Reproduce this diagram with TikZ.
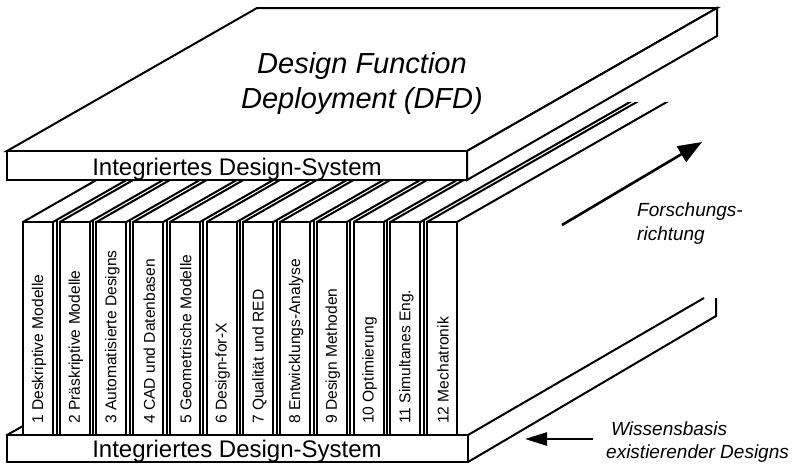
\documentclass[tikz,border=0pt]{standalone}
\usepackage{fontspec}
\setmainfont{Liberation Sans}
\usetikzlibrary{arrows.meta}
\begin{document}
\begin{tikzpicture}[x=1pt,y=-1pt,line join=miter,
  edge/.style={line width=2pt},
  booklabel/.style={rotate=90,anchor=west,inner sep=0pt,font=\fontsize{15.6}{18}\selectfont},
  slablabel/.style={anchor=base,inner sep=0pt,font=\fontsize{24}{28}\selectfont},
  titlelabel/.style={anchor=base,inner sep=0pt,font=\fontsize{29}{34}\selectfont\itshape},
  note/.style={anchor=base west,inner sep=0pt,font=\fontsize{19}{23}\selectfont\itshape},
  bigarrow/.style={line width=2.6pt,-{Triangle[length=24pt,width=18pt]}},
  smallarrow/.style={line width=2.6pt,-{Triangle[length=22pt,width=13pt]}}]
\useasboundingbox (0,0) rectangle (802,463);

% base slab
\draw[edge] (7,435) rectangle (468,462);
\draw[edge] (468,435) -- (704,298);
\draw[edge] (716,298) -- (716,316) -- (468,462);
\draw[edge] (7,435) -- (23,426);

% receding top edges of the volumes
\begin{scope}
  \clip (0,102) rectangle (802,463);
  \foreach \i in {1,...,12} {
    \pgfmathsetmacro{\L}{23+(\i-1)*36.73}
    \draw[edge] (\L,222) -- ++(250,-143);
    \draw[edge] (\L+30,222) -- ++(250,-143);
  }
\end{scope}

% volume fronts with their labels
\foreach \i/\t in {1/{1 Deskriptive Modelle},2/{2 Präskriptive Modelle},
  3/{3 Automatisierte Designs},4/{4 CAD und Datenbasen},
  5/{5 Geometrische Modelle},6/{6 Design-for-X},7/{7 Qualität und RED},
  8/{8 Entwicklungs-Analyse},9/{9 Design Methoden},10/{10 Optimierung},
  11/{11 Simultanes Eng.},12/{12 Mechatronik}} {
  \pgfmathsetmacro{\L}{23+(\i-1)*36.73}
  \draw[edge,fill=white] (\L,222) rectangle (\L+30,435);
  \node[booklabel] (book\i) at (\L+16,424) {\t};
}
\foreach \i in {1,...,11} {
  \pgfmathsetmacro{\L}{23+(\i-1)*36.73}
  \draw[edge] (\L+33.5,220) -- (\L+33.5,435);
}

% top slab
\filldraw[edge,fill=white] (7,151) -- (257,8) -- (717,8) -- (467,151) -- cycle;
\filldraw[edge,fill=white] (467,151) -- (717,8) -- (717,36) -- (467,180) -- cycle;
\filldraw[edge,fill=white] (7,151) rectangle (467,180);

% texts
\node[titlelabel] (title1) at (362,73) {Design Function};
\node[titlelabel] (title2) at (362,108) {Deployment (DFD)};
\node[slablabel] (topsys) at (237,175) {Integriertes Design-System};
\node[slablabel] (basesys) at (237,457) {Integriertes Design-System};
\node[note] (fr1) at (637,216) {Forschungs-};
\node[note] (fr2) at (637,240) {richtung};
\node[note] (wb1) at (611,435) {Wissensbasis};
\node[note] (wb2) at (606,458) {existierender Designs};

% arrows
\coordinate (fstart) at (562,225);
\coordinate (fend) at (702,142);
\coordinate (wstart) at (593,439);
\coordinate (wend) at (525,439);
\draw[bigarrow] (fstart) -- (fend);
\draw[smallarrow] (wstart) -- (wend);
\end{tikzpicture}
\end{document}
